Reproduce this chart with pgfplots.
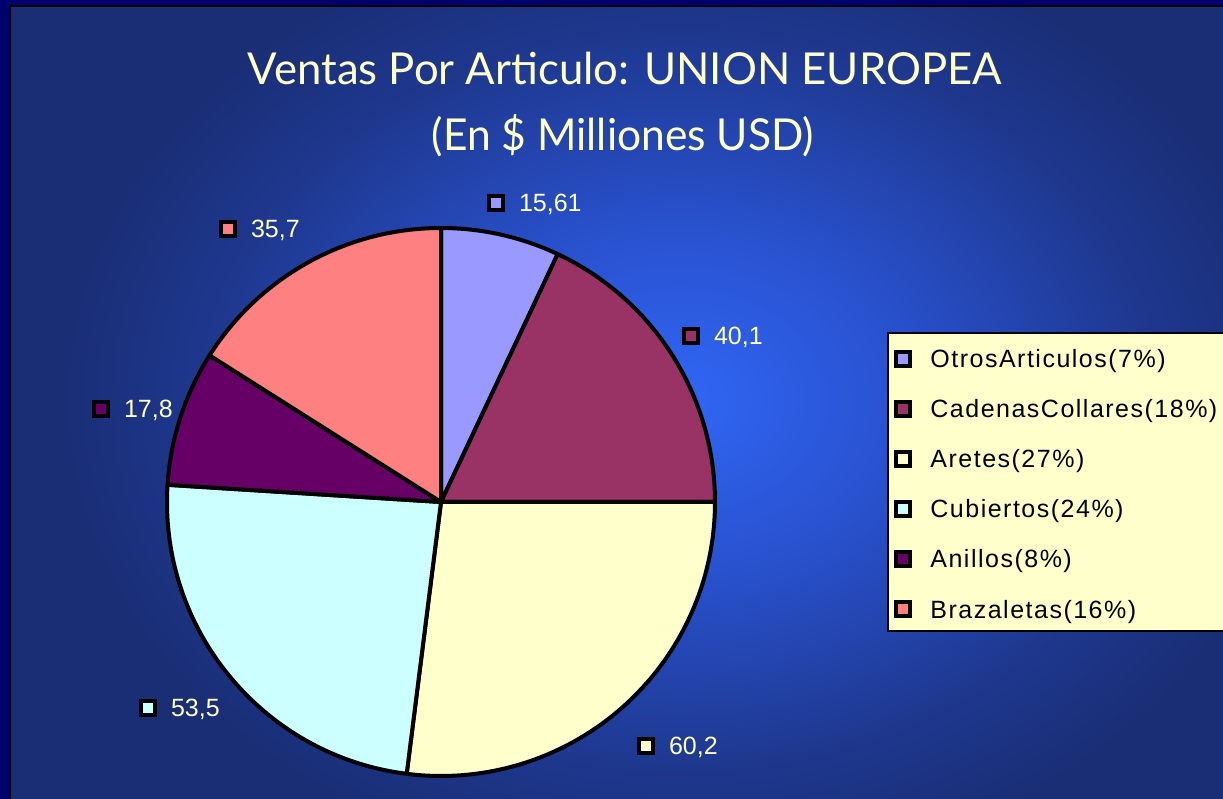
\documentclass[border=0pt]{standalone}
\usepackage{graphicx}
\usepackage{fontspec}
\usepackage{pgfplots}
\usepackage{pgfplotstable}
\pgfplotsset{compat=1.18}
\setmainfont{Liberation Sans}
\newfontfamily\titlefont{Lato}
\newfontfamily\legfont{Liberation Sans}[LetterSpace=6]

\definecolor{pc0}{RGB}{153,153,255}
\definecolor{pc1}{RGB}{153,51,102}
\definecolor{pc2}{RGB}{255,255,204}
\definecolor{pc3}{RGB}{204,255,255}
\definecolor{pc4}{RGB}{102,0,102}
\definecolor{pc5}{RGB}{255,128,128}
\definecolor{navyframe}{RGB}{0,0,110}
\definecolor{bgout}{RGB}{25,46,117}
\definecolor{txtyellow}{RGB}{255,255,204}
\definecolor{legbg}{RGB}{255,255,204}

\pgfdeclareradialshading{bgshade}{\pgfpoint{0bp}{0bp}}{%
  rgb(0bp)=(0.19,0.40,0.96);
  rgb(9bp)=(0.16,0.32,0.81);
  rgb(19bp)=(0.12,0.22,0.56);
  rgb(25bp)=(0.10,0.18,0.46);
  rgb(50bp)=(0.10,0.18,0.46)}

% mill = millones USD; lx, ly = label position (pixels, y from bottom)
\pgfplotstableread{
name            mill   lx   ly   cls
OtrosArticulos  15.61  496  596  c0
CadenasCollares 40.1   691  463  c1
Aretes          60.2   646  53   c2
Cubiertos       53.5   148  91   c3
Anillos         17.8   101  390  c4
Brazaletas      35.7   228  570  c5
}\piedata

% slice angles (clockwise from 12 o'clock) and shares
\gdef\pietotal{0}%
\foreach \i in {0,...,5}{%
  \pgfplotstablegetelem{\i}{mill}\of\piedata
  \pgfmathparse{\pietotal+\pgfplotsretval}\xdef\pietotal{\pgfmathresult}}%
\gdef\piecum{0}%
\foreach \i in {0,...,5}{%
  \pgfplotstablegetelem{\i}{mill}\of\piedata
  \let\v\pgfplotsretval
  \pgfmathparse{90-\piecum/\pietotal*360}\expandafter\xdef\csname pieA\i\endcsname{\pgfmathresult}%
  \pgfmathparse{\piecum+\v}\xdef\piecum{\pgfmathresult}%
  \pgfmathparse{90-\piecum/\pietotal*360}\expandafter\xdef\csname pieB\i\endcsname{\pgfmathresult}%
  \pgfmathtruncatemacro\p{round(\v/\pietotal*100)}\expandafter\xdef\csname pieP\i\endcsname{\p}%
  \pgfplotstablegetelem{\i}{name}\of\piedata
  \expandafter\xdef\csname pieN\i\endcsname{\pgfplotsretval}%
}%

\begin{document}
\begin{tikzpicture}
\begin{axis}[
    width=611.5pt, height=399.5pt,
    scale only axis,
    xmin=0, xmax=1223, ymin=0, ymax=799,
    hide axis,
    clip=false,
]
% background
\fill[navyframe] (axis cs:0,0) rectangle (axis cs:1223,799);
\begin{scope}
  \clip (axis cs:10,0) rectangle (axis cs:1223,793);
  \fill[bgout] (axis cs:10,0) rectangle (axis cs:1223,793);
  \shade[shading=bgshade] (axis cs:680,399) ellipse [x radius=310pt, y radius=240pt];
\end{scope}
\draw[black, line width=0.6pt] (axis cs:10,0) -- (axis cs:10,793) -- (axis cs:1223,793);

% title
\node[text=txtyellow, font=\titlefont\fontsize{22}{26}\selectfont] at (axis cs:625,731)
  {\resizebox{377pt}{\height}{Ventas Por Articulo: UNION EUROPEA}};
\node[text=txtyellow, font=\titlefont\fontsize{22}{26}\selectfont] at (axis cs:623,663)
  {\resizebox{191pt}{\height}{(En \$ Milliones USD)}};

% pie slices
\pgfplotsinvokeforeach{0,...,5}{
  \filldraw[fill=pc#1, draw=black, line width=2pt, line join=round]
    (axis cs:441,297) -- ++(\csname pieA#1\endcsname:137pt)
    arc[start angle=\csname pieA#1\endcsname, end angle=\csname pieB#1\endcsname, radius=137pt] -- cycle;
}

% data labels, one plot per slice
\pgfplotsinvokeforeach{0,...,5}{
\addplot[
    only marks, mark=square*, mark size=3.4pt, line width=2pt,
    mark options={fill=pc#1, draw=black, line width=2pt, solid},
    restrict expr to domain={\coordindex}{#1:#1},
    visualization depends on={\thisrow{mill}\as\labv},
    nodes near coords={\pgfmathprintnumber[use comma, precision=2, assume math mode=true]{\labv}},
    every node near coord/.append style={anchor=base west, inner sep=0pt,
      xshift=10.5pt, yshift=-4.4pt, text=txtyellow, font=\fontsize{12.5}{15}\selectfont},
] table[x=lx, y=ly] {\piedata};
}

% legend
\filldraw[fill=legbg, draw=black, line width=0.9pt] (axis cs:888,168) rectangle (axis cs:1230,466);
\pgfplotsinvokeforeach{0,...,5}{
  \filldraw[fill=pc#1, draw=black, line width=2pt]
    (axis cs:{903-7},{440-50*#1-7}) rectangle (axis cs:{903+7},{440-50*#1+7});
  \node[anchor=base west, inner sep=0pt, font=\legfont\fontsize{12.5}{15}\selectfont]
    at (axis cs:930,{440-50*#1-9}) {\csname pieN#1\endcsname(\csname pieP#1\endcsname\%)};
}
\end{axis}
\pgfresetboundingbox
\path[use as bounding box] (current axis.south west) rectangle (current axis.north east);
\end{tikzpicture}
\end{document}
